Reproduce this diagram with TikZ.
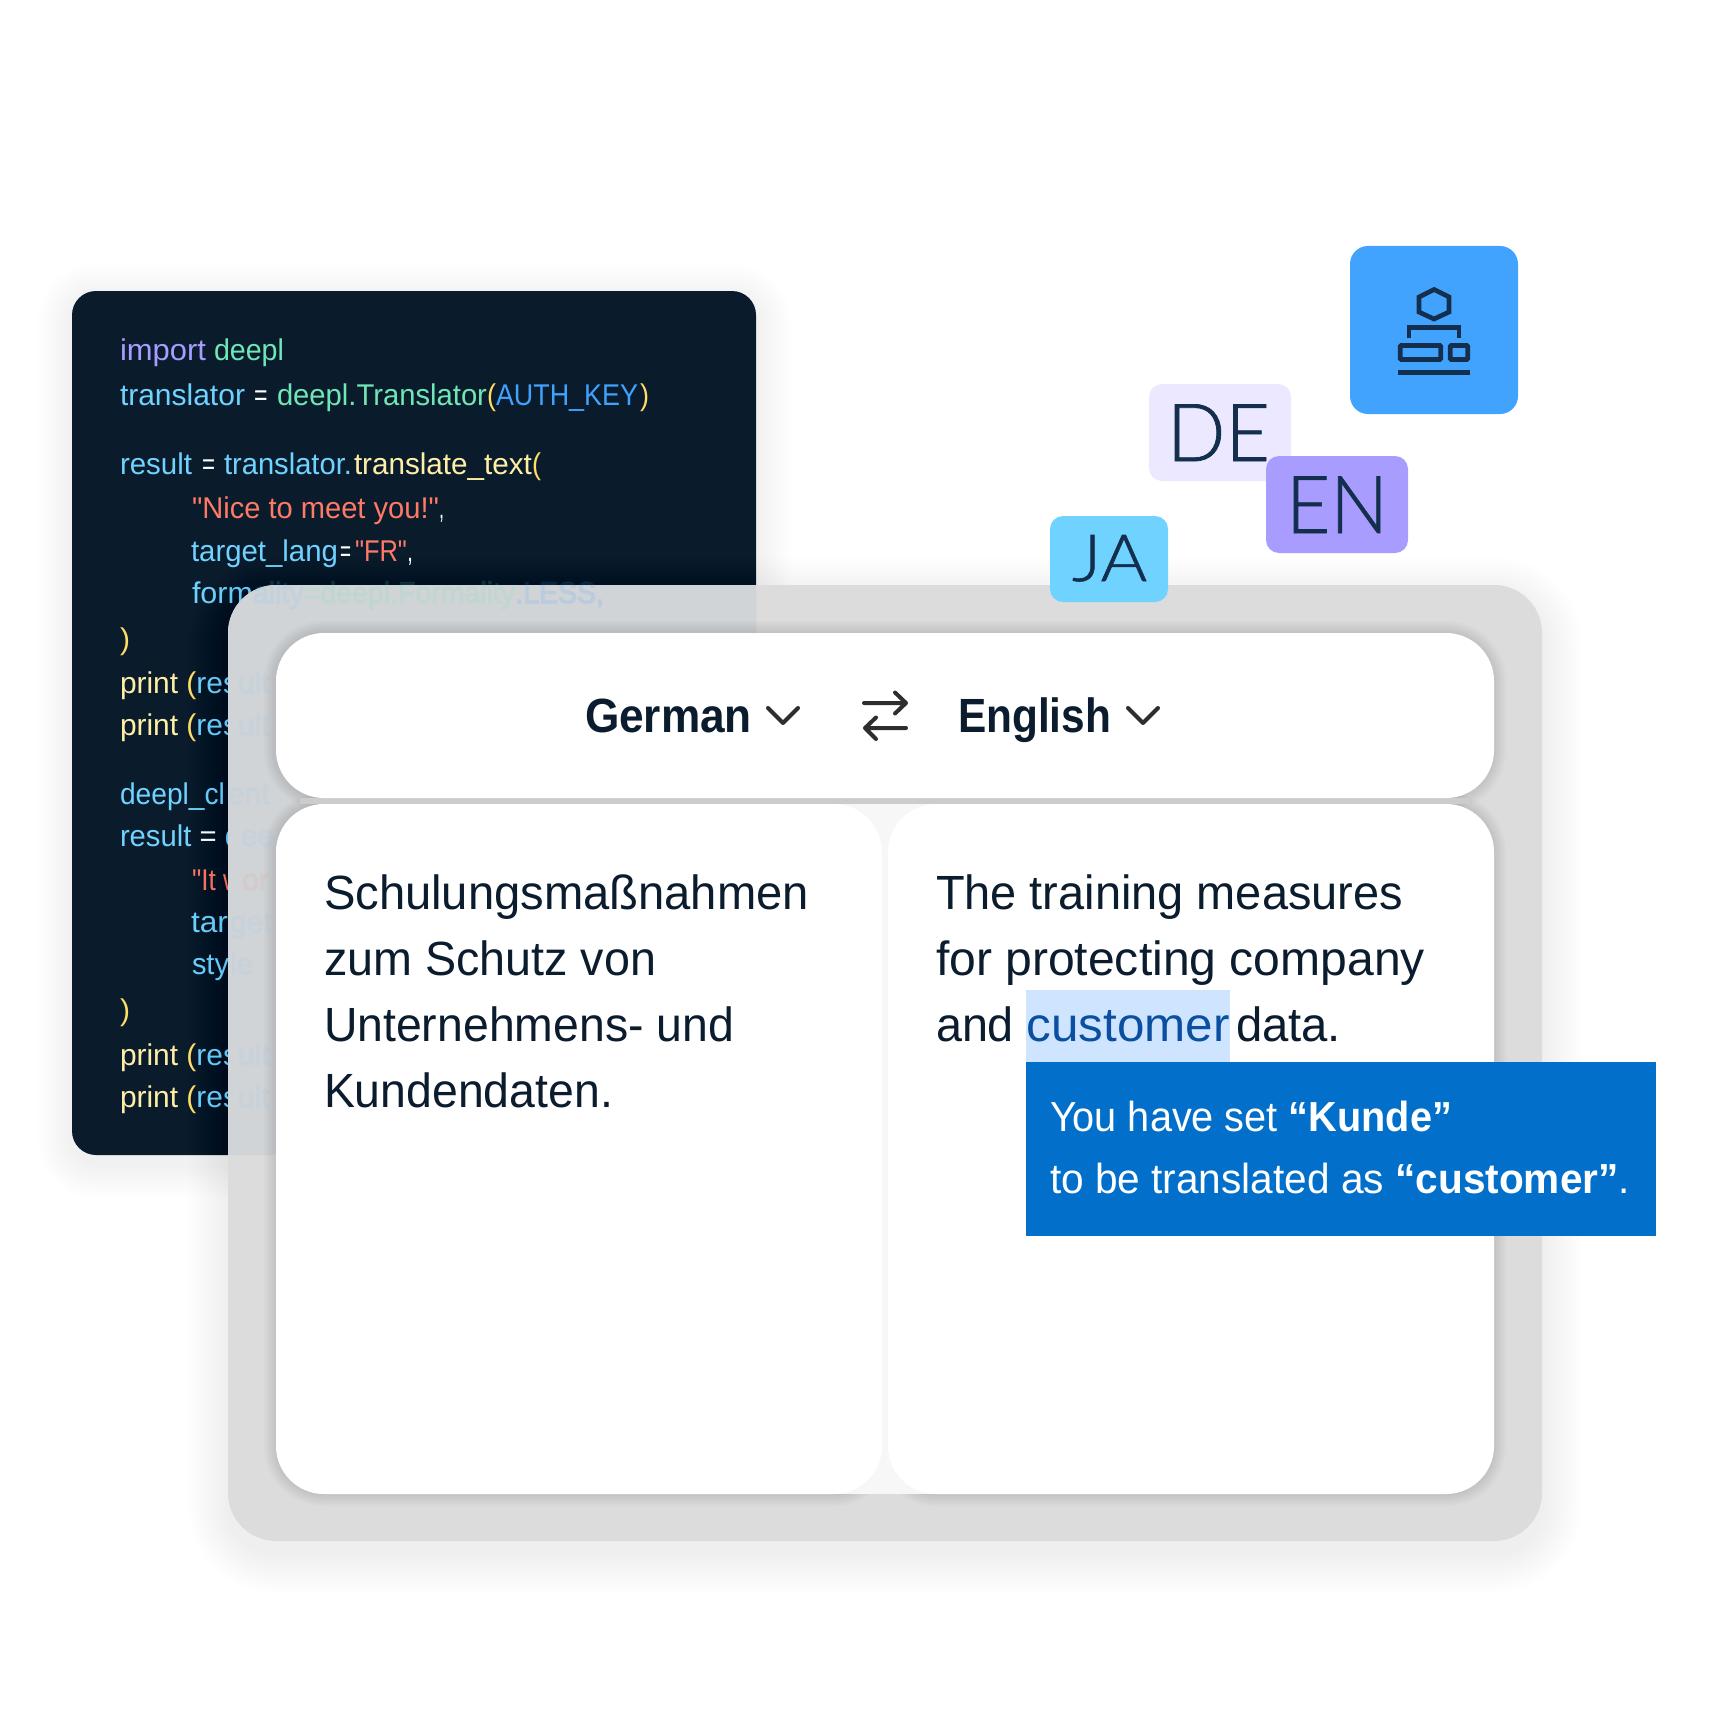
\documentclass[tikz,border=0pt]{standalone}
\usepackage{fontspec}
\usepackage{graphicx}
\setmainfont{Liberation Sans}
\newfontfamily\lightf{Lato Light}[RawFeature={embolden=0.9}]
\newfontfamily\ghostf{Liberation Sans}[RawFeature={embolden=5}]
\newfontfamily\straightf{Liberation Sans}
\newcommand\dq{{\straightf"}}
\definecolor{ink}{HTML}{0B1C2E}
\definecolor{iconink}{HTML}{142F4D}
\definecolor{codebg}{HTML}{0A1B2C}
\definecolor{cpurple}{HTML}{A79CFF}
\definecolor{cgreen}{HTML}{6FE6B4}
\definecolor{cblue}{HTML}{6FD2FF}
\definecolor{ckey}{HTML}{40A2FF}
\definecolor{cyellow}{HTML}{FFDD66}
\definecolor{cpale}{HTML}{FFEFA6}
\definecolor{ccoral}{HTML}{FF7A66}
\definecolor{panelgray}{HTML}{DCDCDC}
\definecolor{glassgray}{HTML}{D1D4D7}
\newsavebox\fitbox
\newcommand\fitw[2]{\sbox\fitbox{#2}\pgfmathsetmacro\fitr{#1/\wd\fitbox}\scalebox{\fitr}[1]{\usebox\fitbox}}
% x1 y1 x2 y2 radius dy layers step opacity
\newcommand\softshadow[9]{\foreach \i in {1,...,#7}{\pgfmathsetmacro\ee{\i*#8}\pgfmathsetmacro\rr{#5+\ee}\fill[black,fill opacity=#9,rounded corners=\rr pt] ({#1-\ee},{#2+#6-\ee}) rectangle ({#3+\ee},{#4+#6+\ee});}}
\tikzset{
  txt/.style={anchor=base west,inner sep=0pt,outer sep=0pt},
  code/.style={txt,font=\fontsize{30}{30}\selectfont,text=cblue},
  ghost/.style={txt,font=\ghostf\fontsize{30}{30}\selectfont,opacity=.10},
  ghostfaint/.style={ghost,opacity=.06},
  body/.style={txt,font=\fontsize{48}{48}\selectfont,text=ink},
  head/.style={txt,font=\bfseries\fontsize{48}{48}\selectfont,text=ink},
  tip/.style={txt,font=\fontsize{42}{42}\selectfont,text=white},
  lang/.style={txt,text=iconink},
  glyph/.style={draw=iconink,line width=4.7pt,fill=none},
  ui/.style={draw=black!82,line width=4pt,line cap=round,line join=round,fill=none},
}
\begin{document}
\begin{tikzpicture}[x=1pt,y=-1pt]
\useasboundingbox (0,0) rectangle (1728,1728);
\fill[white] (0,0) rectangle (1728,1728);
% code panel
\softshadow{72}{291}{756}{1155}{24}{8}{14}{2.5}{.003}
\fill[codebg,rounded corners=24pt] (72,291) rectangle (756,1155);
\node[code] (c1) at (120,360) {\fitw{86}{\textcolor{cpurple}{import}}\hspace{8pt}\fitw{70}{\textcolor{cgreen}{deepl}}};
\node[code] (c2) at (120,405) {\fitw{125}{translator}\hspace{9pt}\fitw{13.5}{\textcolor{white}{=}}\hspace{9.5pt}\fitw{210}{\textcolor{cgreen}{deepl.Translator}}\fitw{9}{\textcolor{cyellow}{(}}\fitw{142}{\textcolor{ckey}{AUTH\_KEY}}\hspace{2pt}\fitw{9}{\textcolor{cyellow}{)}}};
\node[code] (c3) at (120,474) {\fitw{72}{result}\hspace{10pt}\fitw{13}{\textcolor{white}{=}}\hspace{9pt}\fitw{128}{translator.}\hspace{2pt}\fitw{178}{\textcolor{cpale}{translate\_text}}\fitw{9}{\textcolor{cyellow}{(}}};
\node[code] (c4) at (192,518) {\fitw{247}{\textcolor{ccoral}{\dq Nice to meet you!\dq}}\fitw{5}{\textcolor{white}{,}}};
\node[code] (c5) at (191,561) {\fitw{147}{target\_lang}\hspace{2pt}\fitw{11}{\textcolor{white}{=}}\hspace{4pt}\fitw{52}{\textcolor{ccoral}{\dq FR\dq}}\fitw{6}{\textcolor{white}{,}}};
\node[code] (c6) at (192,603) {\fitw{61}{form}};
\node[code,text=cyellow] (c7) at (120,649) {)};
\node[code] (c8) at (120,693) {\fitw{118}{\textcolor{cpale}{print} \textcolor{cyellow}{(}res}};
\node[code] (c9) at (120,735) {\fitw{118}{\textcolor{cpale}{print} \textcolor{cyellow}{(}res}};
\node[code] (c10) at (120,804) {\fitw{105}{deepl\_cl}};
\node[code] (c11) at (120,846) {\fitw{121}{result \textcolor{white}{=} d}};
\node[code,text=ccoral] (c12) at (192,890) {\fitw{50}{\dq It w}};
\node[code] (c13) at (191,932) {\fitw{37}{tar}};
\node[code] (c14) at (192,974) {\fitw{37}{sty}};
\node[code,text=cyellow] (c15) at (120,1020) {)};
\node[code] (c16) at (120,1065) {\fitw{118}{\textcolor{cpale}{print} \textcolor{cyellow}{(}res}};
\node[code] (c17) at (120,1107) {\fitw{118}{\textcolor{cpale}{print} \textcolor{cyellow}{(}res}};
% frosted panel
\softshadow{228}{585}{1542}{1541}{48}{12}{16}{2.5}{.0032}
\fill[panelgray,rounded corners=48pt] (228,585) rectangle (1542,1541);
\begin{scope}
\clip[rounded corners=48pt] (228,585) rectangle (1542,1541);
\fill[glassgray,rounded corners=24pt] (72,291) rectangle (756,1155);
\end{scope}
\node[ghost,text=cblue] (g6) at (253,603) {\fitw{351}{ality\textcolor{cgreen}{=deepl.Formality}\textcolor{ckey}{.LESS,}}};
\node[ghostfaint,text=cblue] (g8) at (238,693) {ult};
\node[ghostfaint,text=cblue] (g9) at (238,735) {ult};
\node[ghostfaint,text=cblue] (g10) at (228,804) {ent};
\node[ghostfaint,text=cblue] (g11) at (241,846) {ee};
\node[ghostfaint,text=ccoral] (g12) at (242,890) {or};
\node[ghostfaint,text=cblue] (g13) at (230,932) {get};
\node[ghostfaint,text=cblue] (g14) at (230,974) {le};
\node[ghostfaint,text=cblue] (g16) at (238,1065) {ult};
\node[ghostfaint,text=cblue] (g17) at (238,1107) {ult};
% language chips and icon card
\fill[rounded corners=18pt,fill={rgb,255:red,66;green,163;blue,255}] (1350,246) rectangle (1518,414);
\draw[glyph,line join=miter] (1434,289.5) -- (1449,297) -- (1449,312) -- (1434,319) -- (1419,312) -- (1419,297) -- cycle;
\draw[glyph,line join=miter] (1409,338) -- (1409,327.7) -- (1459,327.7) -- (1459,338);
\draw[glyph,rounded corners=1pt] (1400.2,345.5) rectangle (1440.8,359.5);
\draw[glyph,rounded corners=1pt] (1450.2,345.5) rectangle (1467.8,359.5);
\draw[glyph] (1398,372.5) -- (1470,372.5);
\fill[rounded corners=13pt,fill={rgb,255:red,236;green,232;blue,255}] (1149,384) rectangle (1291,481);
\node[lang,font=\lightf\fontsize{80}{80}\selectfont] (de) at (1167,461) {\fitw{103}{DE}};
\fill[rounded corners=13pt,fill={rgb,255:red,168;green,156;blue,255}] (1266,456) rectangle (1408,553);
\node[lang,font=\lightf\fontsize{80}{80}\selectfont] (en) at (1286,533) {\fitw{102}{EN}};
\fill[rounded corners=13pt,fill=cblue] (1050,516) rectangle (1168,602);
\node[lang,font=\lightf\fontsize{65}{65}\selectfont] (ja) at (1072,581) {\fitw{75}{JA}};
% white cards
\softshadow{276}{633}{1494}{798}{48}{0}{6}{2}{.016}
\softshadow{276}{804}{882}{1494}{48}{0}{6}{2}{.016}
\softshadow{888}{804}{1494}{1494}{48}{0}{6}{2}{.016}
\fill[fill={rgb,255:red,204;green,204;blue,204}] (300,798) rectangle (1470,804);
\fill[fill={rgb,255:red,247;green,247;blue,247}] (834,804) rectangle (936,1494);
\fill[white,rounded corners=48pt] (276,633) rectangle (1494,798);
\fill[white,rounded corners=48pt] (276,804) rectangle (882,1494);
\fill[white,rounded corners=48pt] (888,804) rectangle (1494,1494);
% header
\node[head] (german) at (585,732) {\fitw{167}{German}};
\draw[ui] (768,708) -- (783,723) -- (798,708);
\draw[ui] (864,703) -- (906,703) (895,692.5) -- (906,703) -- (895,713.5);
\draw[ui] (906,728) -- (865,728) (876,717.5) -- (865,728) -- (876,739);
\node[head] (english) at (958,732) {\fitw{153}{English}};
\draw[ui] (1128,708) -- (1143,723) -- (1158,708);
% source text
\node[body] (s1) at (324,909) {\fitw{485}{Schulungsmaßnahmen}};
\node[body] (s2) at (324,975) {\fitw{332}{zum Schutz von}};
\node[body] (s3) at (324,1041) {\fitw{410}{Unternehmens- und}};
\node[body] (s4) at (324,1107) {\fitw{289}{Kundendaten.}};
% target text
\node[body] (t1) at (936,909) {\fitw{467}{The training measures}};
\node[body] (t2) at (936,975) {\fitw{489}{for protecting company}};
\node[body] (t3a) at (936,1041) {\fitw{78}{and}};
\fill[fill={rgb,255:red,207;green,229;blue,255}] (1026,990) rectangle (1230,1062);
\node[body,text={rgb,255:red,10;green,79;blue,160}] (t3b) at (1026.5,1041) {\fitw{203}{customer}};
\node[body] (t3c) at (1236,1041) {\fitw{105}{data.}};
% tooltip
\fill[fill={rgb,255:red,2;green,112;blue,203}] (1026,1062) rectangle (1656,1236);
\node[tip] (tip1) at (1050,1131) {\fitw{402}{You have set \textbf{“Kunde”}}};
\node[tip] (tip2) at (1050,1193) {\fitw{580}{to be translated as \textbf{“customer”}.}};
\end{tikzpicture}
\end{document}
